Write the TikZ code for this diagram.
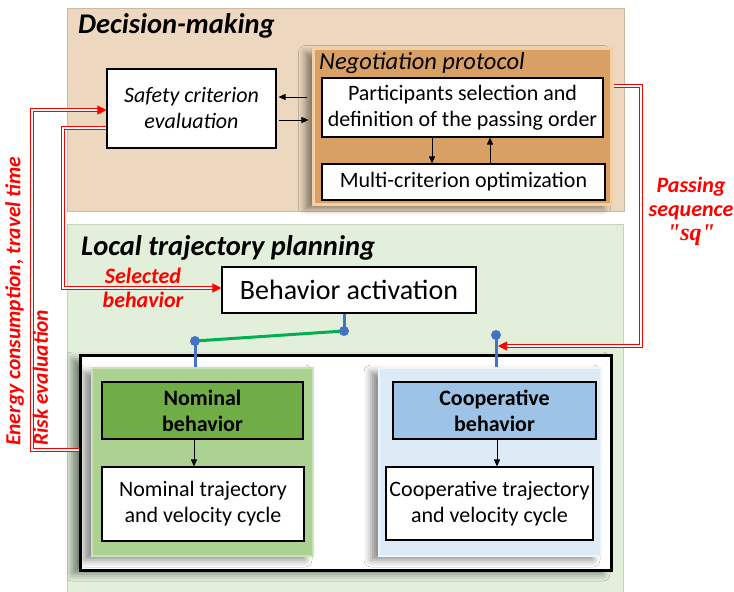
\documentclass[tikz,border=0pt]{standalone}
\usepackage{fontspec}
\setmainfont{Carlito}
\newfontfamily\serifbi{Liberation Serif}
\usetikzlibrary{arrows.meta,shadows.blur}
\definecolor{tanbg}{HTML}{EDD8BF}
\definecolor{tanedge}{HTML}{C9B9A6}
\definecolor{negbg}{HTML}{D9A066}
\definecolor{negedge}{HTML}{F2D0A4}
\definecolor{greenbg}{HTML}{E2EFDA}
\definecolor{greenedge}{HTML}{C6D2BE}
\definecolor{nompan}{HTML}{ABD291}
\definecolor{nompanedge}{HTML}{C9E3B6}
\definecolor{nombeh}{HTML}{70AD47}
\definecolor{coopan}{HTML}{DDEBF7}
\definecolor{coopanedge}{HTML}{EEF5FB}
\definecolor{coopbeh}{HTML}{9DC3E6}
\definecolor{bluec}{HTML}{4472C4}
\definecolor{greenc}{HTML}{00B050}
\begin{document}
\begin{tikzpicture}[x=1pt,y=-1pt,
  box/.style={draw=black, line width=1.1pt, fill=white, inner sep=0pt, align=center,
    font=\fontsize{22}{26}\selectfont},
  shad/.style={blur shadow={shadow xshift=-8pt, shadow yshift=-4pt, shadow blur radius=7pt, shadow opacity=45}},
  arr/.style={-{Triangle[length=7pt,width=6pt]}, line width=0.9pt},
  redline/.style={draw=red, double=white, double distance=1.1pt, line width=1pt},
  redarr/.style={redline, -{Triangle[length=9pt,width=9pt,fill=red,color=red]}},
  redtxt/.style={text=red, font=\fontsize{22}{24}\selectfont\bfseries\itshape, align=center, inner sep=0pt},
  blueline/.style={draw=bluec, line width=3pt},
  title/.style={anchor=base west, inner sep=0pt, font=\fontsize{28.5}{32}\selectfont\bfseries\itshape}
]
\useasboundingbox (0,0) rectangle (734,592);

% ---------- Decision-making ----------
\node[draw=tanedge, fill=tanbg, line width=0.8pt, minimum width=557pt, minimum height=203pt, inner sep=0pt] (dm) at (345.5,109.5) {};
\node[title] (dmtitle) at (78,33) {Decision-making};
\node[draw=negedge, fill=negbg, line width=3pt, minimum width=298pt, minimum height=156pt, inner sep=0pt, shad] (neg) at (462.5,126.5) {};
\node[anchor=base west, inner sep=0pt, font=\fontsize{24.5}{28}\selectfont\itshape] (negtitle) at (319,69) {Negotiation protocol};
\node[box, font=\fontsize{22}{26}\selectfont\itshape, minimum width=169pt, minimum height=79pt] (safety) at (191.5,108.5) {Safety criterion\\evaluation};
\node[box, minimum width=281pt, minimum height=59pt] (part) at (462.5,107.5) {Participants selection and\\definition of the passing order};
\node[box, minimum width=283pt, minimum height=36pt] (multi) at (463.5,182) {Multi-criterion optimization};

\coordinate (la) at (307,97);
\coordinate (ra) at (279,120);
\draw[arr] (la) -- ([xshift=2pt]safety.east |- la);
\draw[arr] (ra) -- ([xshift=-13pt]part.west |- ra);
\draw[arr] (part.south -| 432,0) -- (multi.north -| 432,0);
\draw[arr] (multi.north -| 490,0) -- (part.south -| 490,0);

% ---------- Local trajectory planning ----------
\node[draw=greenedge, fill=greenbg, line width=0.8pt, minimum width=556pt, minimum height=372pt, inner sep=0pt] (ltp) at (345,410) {};
\node[title] (ltptitle) at (81,255) {Local trajectory planning};
\node[box, font=\fontsize{28}{32}\selectfont, minimum width=254pt, minimum height=46pt] (behav) at (349,290) {Behavior activation};

\node[draw=black, fill=white, line width=3pt, minimum width=531pt, minimum height=215pt, inner sep=0pt, shad] (big) at (345.5,462.5) {};

\node[draw=nompanedge, fill=nompan, line width=2pt, minimum width=221pt, minimum height=188pt, inner sep=0pt, shad] (nompanel) at (202.5,462) {};
\node[box, fill=nombeh, font=\fontsize{22}{26}\selectfont\bfseries, minimum width=201pt, minimum height=57pt] (nomb) at (202.5,410.5) {Nominal\\behavior};
\node[box, minimum width=202pt, minimum height=74pt] (nomt) at (203,504) {Nominal trajectory\\and velocity cycle};
\draw[arr] (nomb.south -| 194,0) -- (nomt.north -| 194,0);

\node[draw=coopanedge, fill=coopan, line width=2pt, minimum width=222pt, minimum height=188pt, inner sep=0pt, shad] (coopanel) at (490,462) {};
\node[box, fill=coopbeh, font=\fontsize{22}{26}\selectfont\bfseries, minimum width=203pt, minimum height=57pt] (coopb) at (494.5,410.5) {Cooperative\\behavior};
\node[box, minimum width=207pt, minimum height=73pt] (coopt) at (489.5,503.5) {Cooperative trajectory\\and velocity cycle};
\draw[arr] (coopb.south -| 497,0) -- (coopt.north -| 497,0);

% ---------- blue / green connectors ----------
\coordinate (bdot) at (344,331);
\coordinate (ndot) at (195,341);
\coordinate (cdot) at (496,335);
\draw[blueline] (behav.south -| bdot) -- (bdot);
\draw[draw=greenc, line width=3pt] (bdot) -- (ndot);
\draw[blueline] (ndot) -- (nompanel.north -| ndot);
\draw[blueline] (cdot) -- (coopanel.north -| cdot);
\fill[bluec] (bdot) circle[radius=5pt];
\fill[bluec] (ndot) circle[radius=5pt];
\fill[bluec] (cdot) circle[radius=5pt];

% ---------- red feedback lines ----------
\coordinate (sqs) at (614,86);
\coordinate (sqx) at (641,346);
\coordinate (coopin) at (498,346);
\draw[redarr] (sqs) -| (sqx) -- (coopin);

\coordinate (o1) at (32,450);
\coordinate (o2) at (32,110);
\draw[redarr] (big.west |- o1) -- (o1) -- (o2) -- (safety.west |- o2);
\coordinate (i1) at (63,128);
\coordinate (i2) at (63,288);
\draw[redarr] (safety.west |- i1) -- (i1) -- (i2) -- (behav.west |- i2);

% ---------- red labels ----------
\node[redtxt] (sel) at (143,288) {Selected\\behavior};
\node[redtxt] (pass) at (691,211) {Passing\\sequence\\{\serifbi\bfseries\itshape\fontsize{24}{24}\selectfont "sq"}};
\node[redtxt, align=left, rotate=90, anchor=north west, font=\fontsize{21.5}{27.5}\selectfont\bfseries\itshape] (energy) at (5,446) {Energy consumption, travel time\\Risk evaluation};
\end{tikzpicture}
\end{document}
